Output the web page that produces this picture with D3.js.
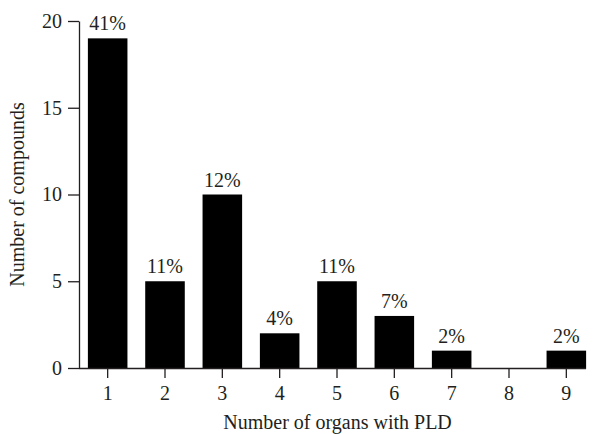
<!DOCTYPE html>
<meta charset="utf-8">
<style>
  body { margin: 0; background: #fff; }
  text { font-family: "Liberation Serif", "DejaVu Serif", serif; fill: #231f20; }
  .axis path, .axis line { stroke: #231f20; stroke-width: 1.3px; }
</style>
<script src="https://d3js.org/d3.v7.min.js"></script>
<div id="chart"></div>
<script>

  var organs = ["1", "2", "3", "4", "5", "6", "7", "8", "9"];
  var compounds = [19, 5, 10, 2, 5, 3, 1, 0, 1];
  var percentLabels = ["41%", "11%", "12%", "4%", "11%", "7%", "2%", "", "2%"];
  var yTicks = [0, 5, 10, 15, 20];

  var W = 597, H = 434;
  var mLeft = 79, mRight = 595, mTop = 21, mBottom = 368;
  var fontSize = "20px";

  var svg = d3.select("#chart")
    .append("svg")
      .attr("width", W)
      .attr("height", H);

  var x = d3.scaleBand()
    .domain(organs)
    .range([mLeft, mRight])
    .paddingInner(0.31)
    .paddingOuter(0.155);

  var y = d3.scaleLinear()
    .domain([0, 20])
    .range([mBottom, mTop]);

  // bars
  svg.append("g")
    .selectAll("rect")
    .data(compounds)
    .enter().append("rect")
      .attr("x", function(d, i) { return x(organs[i]); })
      .attr("y", function(d) { return y(d); })
      .attr("width", x.bandwidth())
      .attr("height", function(d) { return y(0) - y(d); })
      .attr("fill", "#000");

  // percentage labels
  svg.append("g")
    .selectAll("text")
    .data(compounds)
    .enter().append("text")
      .attr("x", function(d, i) { return x(organs[i]) + x.bandwidth() / 2; })
      .attr("y", function(d) { return y(d) - 8; })
      .attr("text-anchor", "middle")
      .style("font-size", fontSize)
      .text(function(d, i) { return percentLabels[i]; });

  // y axis
  var yAxis = svg.append("g")
    .attr("class", "axis")
    .attr("transform", "translate(" + mLeft + ",0)")
    .call(d3.axisLeft(y).tickValues(yTicks).tickSize(11).tickSizeOuter(0).tickPadding(6));
  yAxis.selectAll("text").style("font-size", fontSize);

  // x axis
  var barEnd = x("9") + x.bandwidth();
  var xAxis = svg.append("g")
    .attr("class", "axis")
    .attr("transform", "translate(0," + mBottom + ")")
    .call(d3.axisBottom(x).tickSize(10).tickSizeOuter(0).tickPadding(8));
  xAxis.select(".domain").attr("d", "M" + mLeft + ",0.5H" + barEnd);
  xAxis.selectAll("text").style("font-size", fontSize);

  // axis titles
  svg.append("text")
    .attr("x", (mLeft + barEnd) / 2 + 5)
    .attr("y", 429)
    .attr("text-anchor", "middle")
    .style("font-size", fontSize)
    .text("Number of organs with PLD");

  svg.append("text")
    .attr("transform", "translate(24," + ((mTop + mBottom) / 2) + ") rotate(-90)")
    .attr("text-anchor", "middle")
    .style("font-size", fontSize)
    .text("Number of compounds");

</script>
